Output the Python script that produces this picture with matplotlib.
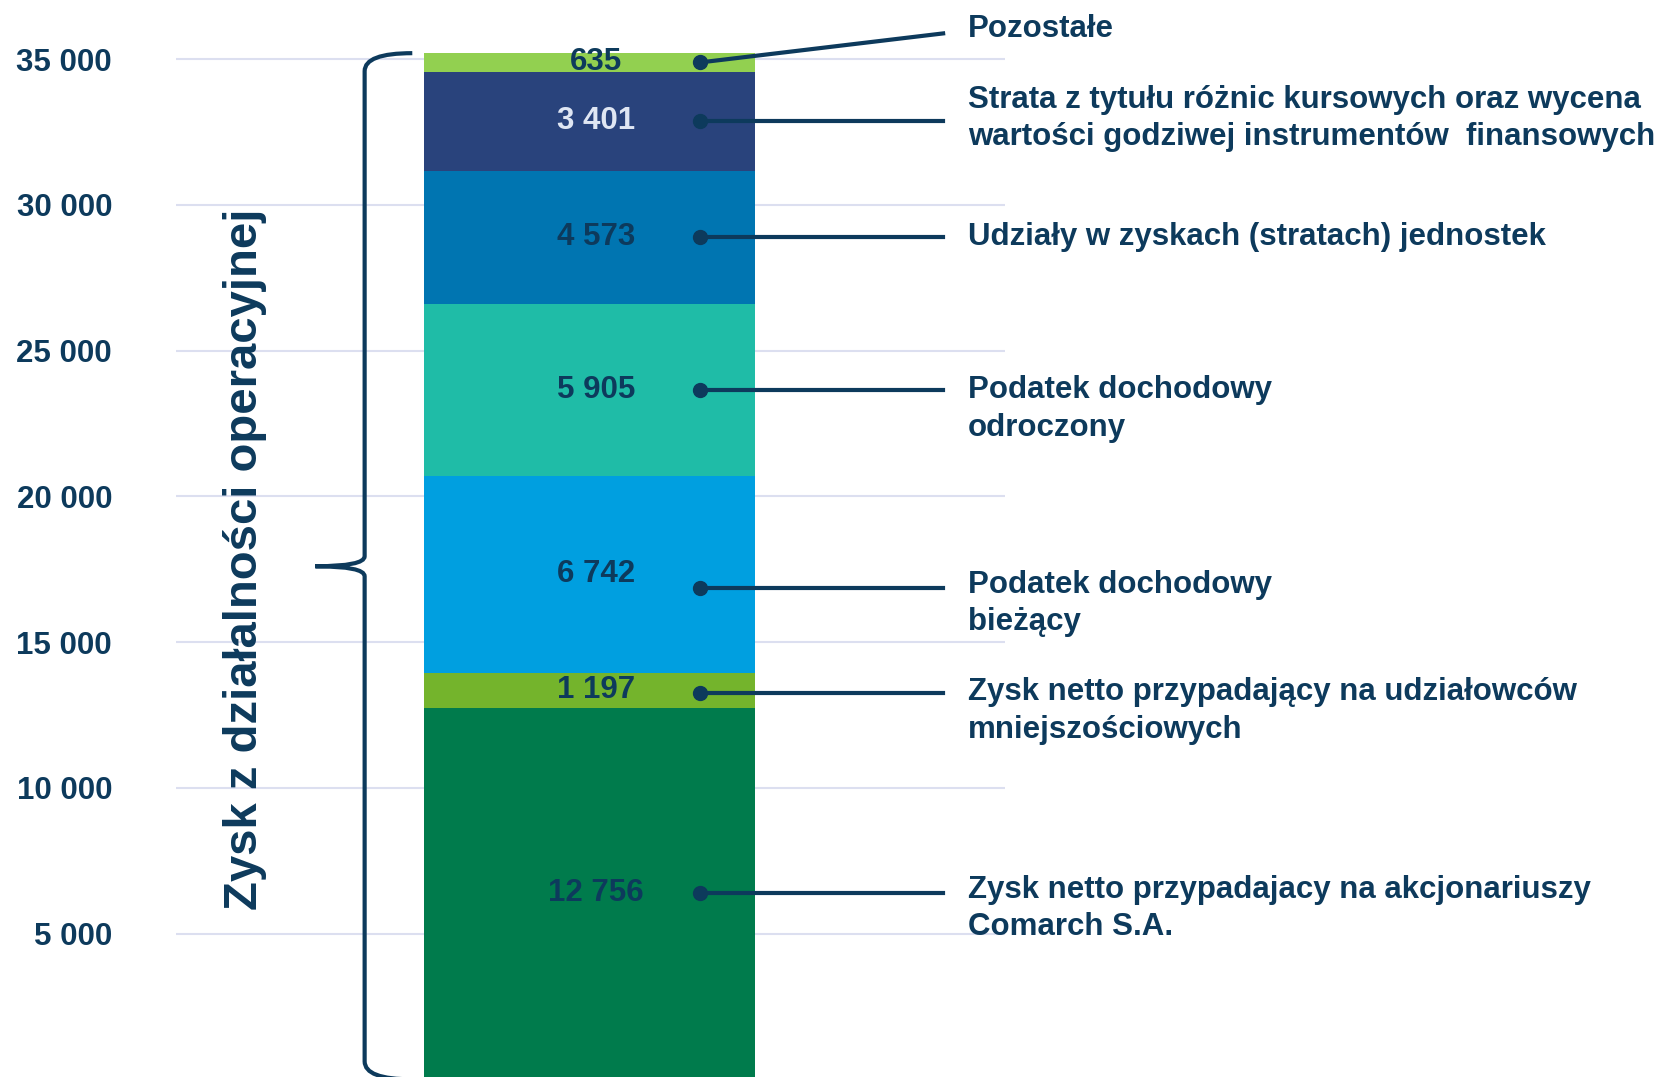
import matplotlib
matplotlib.use('Agg')
import matplotlib.pyplot as plt
import numpy as np
from matplotlib.path import Path
from matplotlib.patches import PathPatch
from matplotlib.transforms import offset_copy

plt.rcParams['font.family'] = ['Liberation Sans', 'DejaVu Sans']

# data, bottom to top
values = [12756, 1197, 6742, 5905, 4573, 3401, 635]
value_labels = ['12 756', '1 197', '6 742', '5 905', '4 573', '3 401', '635']
names = [
    'Zysk netto przypadajacy na akcjonariuszy\nComarch S.A.',
    'Zysk netto przypadający na udziałowców\nmniejszościowych',
    'Podatek dochodowy\nbieżący',
    'Podatek dochodowy\nodroczony',
    'Udziały w zyskach (stratach) jednostek',
    'Strata z tytułu różnic kursowych oraz wycena\nwartości godziwej instrumentów  finansowych',
    'Pozostałe',
]
yticks = [5000, 10000, 15000, 20000, 25000, 30000, 35000]
ytick_labels = ['5 000', '10 000', '15 000', '20 000', '25 000', '30 000', '35 000']
bracket_title = 'Zysk z działalności operacyjnej'

colors = ['#007b4c', '#74b42c', '#009fe0', '#1fbca7', '#0075b1', '#29437c', '#92d050']
val_colors = ['#0d3a5c'] * 7
val_colors[5] = '#dfe6f3'
navy = '#0d3a5c'

# per-label pixel offsets (label text / leader line relative to segment centre)
text_dy = [-15, -21, -29, -19, 0, 3, 33]
line_dy = [0, -3, -14, 0, 0, 0, 29]
dot_dy = [0, -3, -14, 0, 0, 0, 0]

fig = plt.figure(figsize=(16.71, 10.77), dpi=100)
ax = fig.add_axes([176 / 1671, 0, (1005 - 176) / 1671, 1])

bottoms = np.concatenate([[0], np.cumsum(values)[:-1]])
total = sum(values)
ax.bar(0, values, bottom=bottoms, width=1.0, color=colors, zorder=2)

ax.set_xlim(-1.25, 1.255)
ax.set_ylim(82, 37033)
ax.set_yticks(yticks)
ax.set_yticklabels(ytick_labels, fontsize=22.5, fontweight='bold', color=navy)
ax.tick_params(axis='y', length=0, pad=46)
ax.set_xticks([])
for s in ax.spines.values():
    s.set_visible(False)
ax.yaxis.grid(True, color='#dcdff0', linewidth=1.5, zorder=0)
ax.set_axisbelow(True)

dot_x = 0.334
line_end = 1.068
text_x = 1.143
for i, v in enumerate(values):
    yc = bottoms[i] + v / 2
    ax.text(0.02, yc, value_labels[i], ha='center', va='center', fontsize=22.5,
            fontweight='bold', color=val_colors[i], zorder=3)
    tr_dot = offset_copy(ax.transData, fig=fig, y=dot_dy[i], units='dots')
    tr_end = offset_copy(ax.transData, fig=fig, y=line_dy[i], units='dots')
    p0 = tr_dot.transform((dot_x, yc))
    p1 = tr_end.transform((line_end, yc))
    ax.plot([p0[0], p1[0]], [p0[1], p1[1]], transform=None, color=navy,
            lw=3, zorder=4, clip_on=False)
    ax.plot([dot_x], [yc], 'o', transform=tr_dot, color=navy, ms=10, zorder=5)
    tr_txt = offset_copy(ax.transData, fig=fig, y=text_dy[i], units='dots')
    ax.text(text_x, yc, names[i], transform=tr_txt, ha='left', va='center',
            fontsize=22.5, fontweight='bold', color=navy, linespacing=1.32,
            clip_on=False)

# curly bracket
px = 1 / 0.029147
bx = -0.68
tip = -0.829
hook = -0.536
mid = total / 2
verts = [
    (hook, total), (bx, total), (bx, total - 18 * px),
    (bx, mid + 10 * px),
    (bx, mid), (tip, mid),
    (bx, mid), (bx, mid - 10 * px),
    (bx, 18 * px),
    (bx, 0), (hook, 0),
]
codes = [Path.MOVETO, Path.CURVE3, Path.CURVE3,
         Path.LINETO,
         Path.CURVE3, Path.CURVE3,
         Path.CURVE3, Path.CURVE3,
         Path.LINETO,
         Path.CURVE3, Path.CURVE3]
ax.add_patch(PathPatch(Path(verts, codes), fill=False, edgecolor=navy, lw=3,
                       clip_on=False, zorder=3))

ax.text(-1.04, 17837, bracket_title, rotation=90, ha='center', va='center',
        fontsize=34, fontweight='bold', color=navy)

fig.savefig('out.png', dpi=100)
